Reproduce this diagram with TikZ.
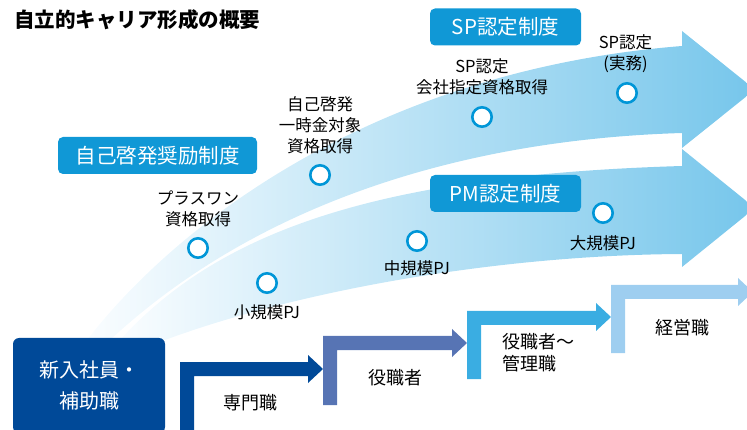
\documentclass[tikz,border=0pt]{standalone}
\usepackage{fontspec}
\newfontfamily\jpfont{Noto Sans CJK JP}
\usepackage{tikz}
\usetikzlibrary{positioning}

\definecolor{tagblue}{RGB}{16,152,214}
\definecolor{spotblue}{RGB}{0,150,215}
\definecolor{navy}{RGB}{0,73,152}
\definecolor{stepB}{RGB}{87,116,180}
\definecolor{stepC}{RGB}{58,173,226}
\definecolor{stepD}{RGB}{158,206,240}
\definecolor{bandL}{RGB}{250,253,255}
\definecolor{bandR}{RGB}{118,198,235}

\begin{document}
\begin{tikzpicture}[x=1pt,y=-1pt]
  \tikzset{spot/.style = {shape=circle,draw=spotblue,fill=white,line width=2.6pt,minimum size=19.4pt,inner sep=0pt}}
  \tikzset{tag/.style = {fill=tagblue,rounded corners=5pt,text=white,font=\jpfont\fontsize{20.5}{24}\selectfont,minimum width=151pt,minimum height=37pt,inner sep=0pt}}
  \tikzset{note/.style = {align=center,font=\jpfont\fontsize{16.5}{21}\selectfont,inner sep=0pt}}
  \tikzset{stage/.style = {align=left,font=\jpfont\fontsize{18}{22}\selectfont,inner sep=0pt}}

  \path[use as bounding box,clip] (0,0) rectangle (747,430);

  % two wide arrows
  \path[left color=bandL,right color=bandR] (87,340) .. controls (180,220) and (380,70) .. (682,46)
    -- (682,31) -- (755,89.5) -- (682,148) -- (682,133)
    .. controls (450,140) and (250,210) .. (110,340) -- cycle;
  \path[left color=bandL,right color=bandR] (120,340) .. controls (220,230) and (380,175) .. (682,166)
    -- (682,149) -- (755,208) -- (682,267) -- (682,254)
    .. controls (500,255) and (300,290) .. (165,340) -- cycle;

  \node[anchor=west,font=\jpfont\bfseries\fontsize{20.5}{24}\selectfont,inner sep=0pt] (title) at (14,20) {自立的キャリア形成の概要};

  \node[tag,minimum width=199pt] (selfdev) at (157.5,155.5) {自己啓発奨励制度};
  \node[tag] (spsys) at (505.5,27) {SP認定制度};
  \node[tag] (pmsys) at (505.5,193.5) {PM認定制度};

  \foreach \n/\x/\y in {plus/198/248, small/267/283, selfq/320/175, mid/417/241,
                         spq/482/117, spjob/627/93, large/603/213}
    \node[spot] (\n) at (\x,\y) {};

  \node[note] (plustxt) at (198,208.5) {プラスワン\\資格取得};
  \node[note] (smalltxt) at (267,312) {小規模PJ};
  \node[note] (selfqtxt) at (320,125) {自己啓発\\一時金対象\\資格取得};
  \node[note] (midtxt) at (417,268) {中規模PJ};
  \node[note] (spqtxt) at (482,77) {SP認定\\会社指定資格取得};
  \node[note] (spjobtxt) at (625.5,53.5) {SP認定\\(実務)};
  \node[note] (largetxt) at (603,243) {大規模PJ};

  % career steps
  \node[fill=navy,rounded corners=6pt,minimum width=152pt,minimum height=95pt,text=white,
        align=center,font=\jpfont\fontsize{20}{31}\selectfont] (entry) at (89,385.5) {新入社員・\\補助職};

  \fill[navy] (180,440) -- (180,362) -- (308,362) -- (308,355) -- (323,369) -- (308,383)
    -- (308,376) -- (194,376) -- (194,440) -- cycle;
  \fill[stepB] (323,405) -- (323,336) -- (452,336) -- (452,329) -- (467,343) -- (452,357)
    -- (452,350) -- (337,350) -- (337,405) -- cycle;
  \fill[stepC] (467,379) -- (467,311) -- (596,311) -- (596,303) -- (611,317) -- (596,331)
    -- (596,325) -- (481,325) -- (481,379) -- cycle;
  \fill[stepD] (611,353) -- (611,285) -- (738,285) -- (738,278) -- (753,292) -- (738,306)
    -- (738,299) -- (625,299) -- (625,353) -- cycle;

  \node[stage] (pro) at (250.5,403) {専門職};
  \node[stage] (officer) at (395,378) {役職者};
  \node[stage,anchor=west] (manager) at (502,352.5) {役職者～\\管理職};
  \node[stage] (exec) at (682,328) {経営職};
\end{tikzpicture}
\end{document}
